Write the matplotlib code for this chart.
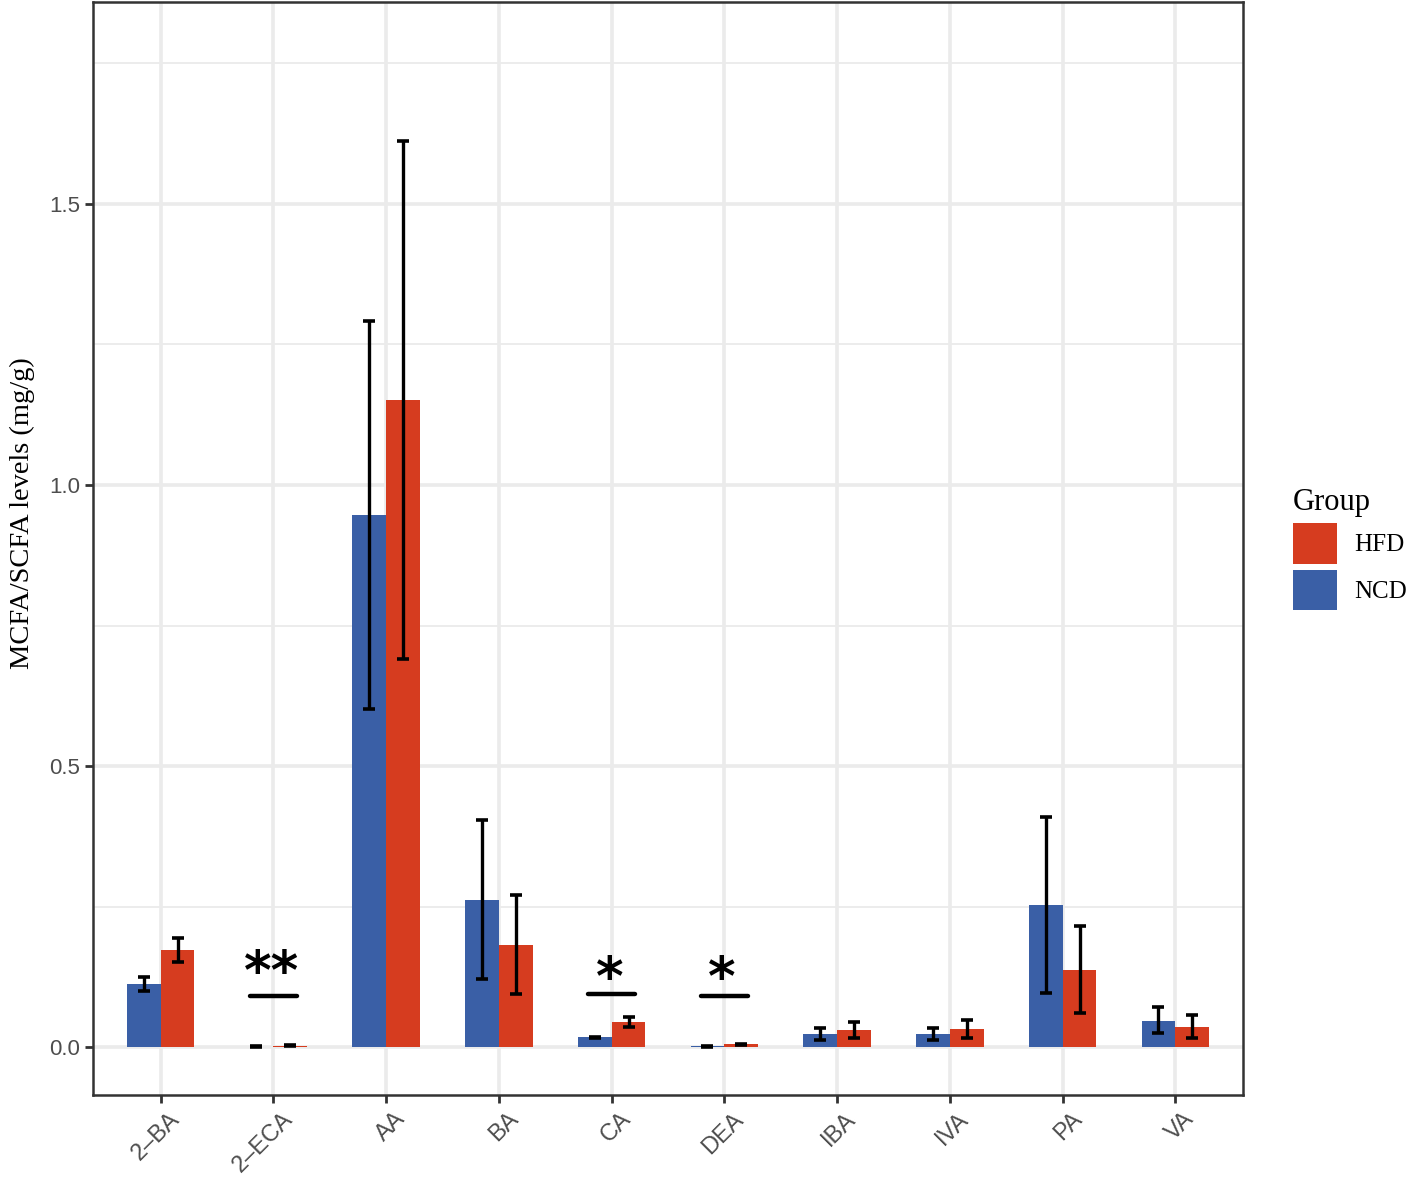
import matplotlib
matplotlib.use("Agg")
import matplotlib.pyplot as plt
import matplotlib.transforms as mtransforms
import numpy as np
from matplotlib.patches import Patch

categories = ["2–BA", "2–ECA", "AA", "BA", "CA", "DEA", "IBA", "IVA", "PA", "VA"]
ncd_mean = [0.112, 0.001, 0.947, 0.262, 0.018, 0.002, 0.023, 0.023, 0.253, 0.046]
ncd_lo   = [0.100, 0.000, 0.601, 0.121, 0.017, 0.001, 0.012, 0.012, 0.096, 0.025]
ncd_hi   = [0.125, 0.002, 1.292, 0.405, 0.019, 0.003, 0.034, 0.034, 0.409, 0.071]
hfd_mean = [0.173, 0.003, 1.151, 0.181, 0.045, 0.005, 0.030, 0.032, 0.137, 0.036]
hfd_lo   = [0.151, 0.002, 0.690, 0.094, 0.036, 0.004, 0.016, 0.016, 0.060, 0.016]
hfd_hi   = [0.194, 0.004, 1.612, 0.270, 0.053, 0.006, 0.044, 0.048, 0.215, 0.057]
sig_cats = ["2–ECA", "CA", "DEA"]
sig_labels = ["**", "*", "*"]
sig_line = [0.091, 0.094, 0.091]
sig_star = [0.140, 0.129, 0.129]

col_ncd = "#3A5FA6"
col_hfd = "#D63C1F"

fig = plt.figure(figsize=(14.17, 11.81), dpi=100)
ax = fig.add_axes([93/1417, 86/1181, 1150/1417, 1093/1181])

x = np.arange(len(categories))
w = 0.3
ax.bar(x - w/2, ncd_mean, width=w, color=col_ncd, zorder=2)
ax.bar(x + w/2, hfd_mean, width=w, color=col_hfd, zorder=2)
ax.errorbar(x - w/2, ncd_mean,
            yerr=[np.array(ncd_mean) - np.array(ncd_lo), np.array(ncd_hi) - np.array(ncd_mean)],
            fmt="none", ecolor="black", elinewidth=2.4, capsize=4, capthick=2.6, zorder=3)
ax.errorbar(x + w/2, hfd_mean,
            yerr=[np.array(hfd_mean) - np.array(hfd_lo), np.array(hfd_hi) - np.array(hfd_mean)],
            fmt="none", ecolor="black", elinewidth=2.4, capsize=4, capthick=2.6, zorder=3)

for c, lab, yl, ys in zip(sig_cats, sig_labels, sig_line, sig_star):
    i = categories.index(c)
    ax.plot([i - 0.21, i + 0.21], [yl, yl], color="black", lw=3.2, solid_capstyle="round", zorder=3)
    ax.text(i - 0.02, ys, lab, ha="center", va="center_baseline", fontsize=38,
            fontweight="bold", family="DejaVu Sans", zorder=3)

ax.set_xlim(-0.6, len(categories) - 0.4)
ax.set_ylim(-0.085, 1.859)
ax.set_yticks([0.0, 0.5, 1.0, 1.5])
ax.set_yticklabels(["0.0", "0.5", "1.0", "1.5"])
ax.set_yticks([0.25, 0.75, 1.25, 1.75], minor=True)
ax.set_xticks(x)
ax.set_xticklabels(categories, rotation=45, ha="right", rotation_mode="anchor")
ax.grid(True, which="major", color="#EBEBEB", lw=2.6, zorder=0)
ax.grid(True, which="minor", axis="y", color="#EBEBEB", lw=1.3, zorder=0)
ax.set_axisbelow(True)
ax.tick_params(axis="both", which="major", length=6, width=2, colors="#333333",
               labelcolor="#4D4D4D")
ax.tick_params(axis="y", labelsize=16)
ax.tick_params(axis="x", labelsize=17)
ax.tick_params(axis="y", which="minor", length=0)
shift = mtransforms.ScaledTranslation(8/100, 0, fig.dpi_scale_trans)
for lab in ax.get_xticklabels():
    lab.set_family("Liberation Sans")
    lab.set_transform(lab.get_transform() + shift)
for lab in ax.get_yticklabels():
    lab.set_family("Liberation Sans")
for s in ax.spines.values():
    s.set_color("#333333")
    s.set_linewidth(1.8)
ax.set_ylabel("MCFA/SCFA levels (mg/g)", family="Liberation Serif", fontsize=20.5)
ax.yaxis.set_label_coords(-0.05, 0.532)

handles = [Patch(facecolor=col_hfd, label="HFD"), Patch(facecolor=col_ncd, label="NCD")]
leg = fig.legend(handles=handles, title="Group", loc="upper left",
                 bbox_to_anchor=(1293/1417, 1 - 488/1181), frameon=False,
                 borderpad=0, borderaxespad=0,
                 prop={"family": "Liberation Serif", "size": 18},
                 title_fontproperties={"family": "Liberation Serif", "size": 22},
                 handlelength=1.75, handleheight=2.1, handletextpad=0.7, labelspacing=0.25)
leg._legend_box.align = "left"

fig.savefig("out.png", dpi=100)
